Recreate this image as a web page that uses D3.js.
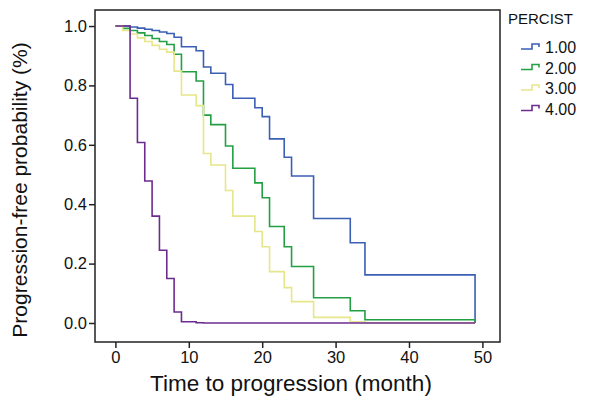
<!DOCTYPE html>
<html><head><meta charset="utf-8">
<script src="https://cdn.jsdelivr.net/npm/d3@7"></script>
<style>body{margin:0;background:#fff;} text{font-family:"Liberation Sans",Arial,sans-serif;fill:#111;}</style>
</head><body><svg id="c" width="594" height="406"></svg>
<script>
const groups = ["1.00","2.00","3.00","4.00"];
const colors = ["#3b5fb4","#23a044","#e6e68a","#6c2c8f"];
const t1 = [0,2,3,4,5,6,7,8,9,11,12,13,15,16,19,20,21,23,24,27,32,34,49];
const s1 = [1,0.997,0.993,0.989,0.985,0.98,0.975,0.962,0.93,0.917,0.862,0.841,0.803,0.757,0.725,0.695,0.62,0.558,0.495,0.352,0.27,0.162,0];
const t2 = [0,1,2,3,4,5,6,7,8,9,11,12,13,15,16,19,20,21,23,24,27,32,34,49];
const s2 = [1,0.992,0.985,0.977,0.968,0.958,0.948,0.938,0.905,0.846,0.815,0.70,0.668,0.596,0.521,0.472,0.422,0.325,0.257,0.19,0.085,0.041,0.011,0];
const t3 = [0,1,2,3,4,5,6,7,8,9,11,12,13,15,16,19,20,21,23,24,27,32,34,49];
const s3 = [1,0.985,0.973,0.96,0.948,0.935,0.922,0.912,0.848,0.768,0.732,0.571,0.532,0.446,0.36,0.308,0.257,0.173,0.119,0.072,0.019,0.004,0,0];
const t4 = [0,2,3,4,5,6,7,8,9,11,12,49];
const s4 = [1,0.757,0.608,0.478,0.36,0.245,0.15,0.037,0.004,0.001,0,0];
const xTicks = [0,10,20,30,40,50];
const yTicks = [0,0.2,0.4,0.6,0.8,1.0];

const series = [[t1,s1],[t2,s2],[t3,s3],[t4,s4]];
const svg = d3.select("#c");
const L=95,R=500,T=10,B=342;
const x = d3.scaleLinear().domain([-2.78,52.4]).range([L,R]);
const y = d3.scaleLinear().domain([-0.064,1.054]).range([B,T]);

svg.append("rect").attr("x",L).attr("y",T).attr("width",R-L).attr("height",B-T)
  .attr("fill","none").attr("stroke","#222").attr("stroke-width",1.5);

const xa = svg.append("g").attr("transform",`translate(0,${B})`)
  .call(d3.axisBottom(x).tickValues(xTicks).tickSize(6).tickPadding(3).tickFormat(d3.format("d")));
const ya = svg.append("g").attr("transform",`translate(${L},0)`)
  .call(d3.axisLeft(y).tickValues(yTicks).tickSize(6).tickPadding(2).tickFormat(d3.format(".1f")));
[xa,ya].forEach(a=>{a.select(".domain").remove();a.selectAll("line").attr("stroke","#222").attr("stroke-width",1.5);
  a.selectAll("text").attr("font-size",16.5).attr("fill","#111").style("font-family","Liberation Sans, Arial, sans-serif");});

const line = d3.line().x(d=>x(d[0])).y(d=>y(d[1])).curve(d3.curveStepAfter);
series.forEach((s,i)=>{
  const pts = s[0].map((t,j)=>[t,s[1][j]]);
  svg.append("path").attr("d",line(pts)).attr("fill","none").attr("stroke",colors[i]).attr("stroke-width",1.6);
});

svg.append("text").attr("x",291).attr("y",391).attr("text-anchor","middle").attr("font-size",22.5).text("Time to progression (month)");
svg.append("text").attr("transform",`translate(27,${190}) rotate(-90)`).attr("text-anchor","middle").attr("font-size",21).text("Progression-free probability (%)");

const lg = svg.append("g");
lg.append("text").attr("x",508).attr("y",24).attr("font-size",15).text("PERCIST");
groups.forEach((g,i)=>{
  const yy = 47+i*20.5;
  lg.append("path").attr("d",`M521,${yy+2}H532V${yy-3}H539V${yy}`).attr("fill","none").attr("stroke",colors[i]).attr("stroke-width",1.6);
  lg.append("text").attr("x",545).attr("y",yy+6).attr("font-size",16).text(g);
});
</script></body></html>
